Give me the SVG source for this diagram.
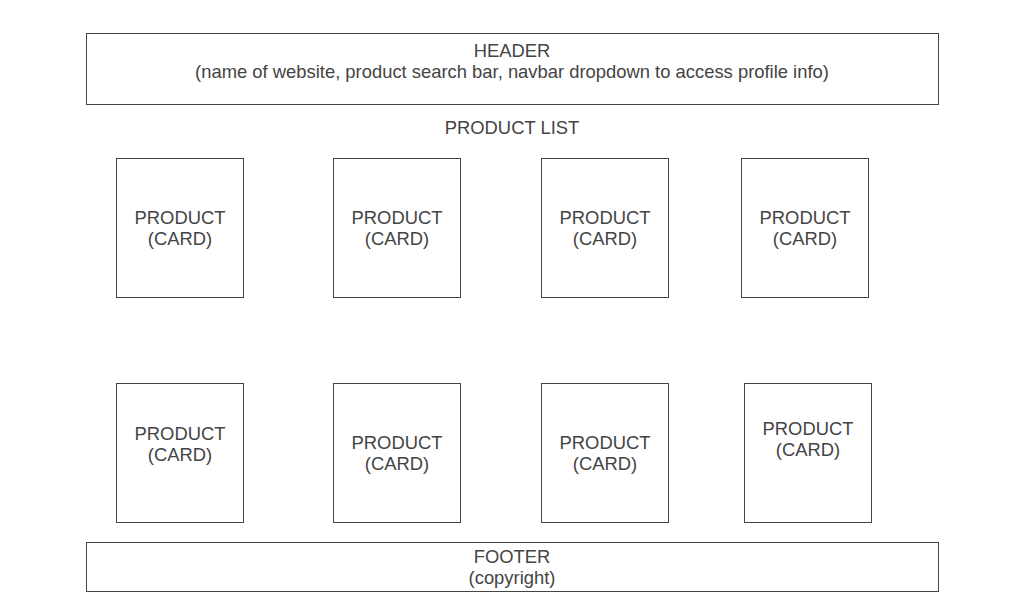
<svg xmlns="http://www.w3.org/2000/svg" width="1024" height="600" viewBox="0 0 1024 600">
<style>
.box{fill:#ffffff;stroke:#444444;stroke-width:1}
.t{font-family:"Liberation Sans",Arial,sans-serif;font-size:18.4px;fill:#444444;text-anchor:middle}
</style>
<rect width="1024" height="600" fill="#ffffff"/>
<g id="header">
<rect class="box" x="86.5" y="33.5" width="852" height="71"/>
<text class="t" x="512" y="57">HEADER</text>
<text class="t" x="512" y="78">(name of website, product search bar, navbar dropdown to access profile info)</text>
</g>
<g id="product-list-label">
<text class="t" x="512" y="134">PRODUCT LIST</text>
</g>
<g id="card1">
<rect class="box" x="116.5" y="158.5" width="127" height="139"/>
<text class="t" x="180" y="224">PRODUCT</text>
<text class="t" x="180" y="245">(CARD)</text>
</g>
<g id="card2">
<rect class="box" x="333.5" y="158.5" width="127" height="139"/>
<text class="t" x="397" y="224">PRODUCT</text>
<text class="t" x="397" y="245">(CARD)</text>
</g>
<g id="card3">
<rect class="box" x="541.5" y="158.5" width="127" height="139"/>
<text class="t" x="605" y="224">PRODUCT</text>
<text class="t" x="605" y="245">(CARD)</text>
</g>
<g id="card4">
<rect class="box" x="741.5" y="158.5" width="127" height="139"/>
<text class="t" x="805" y="224">PRODUCT</text>
<text class="t" x="805" y="245">(CARD)</text>
</g>
<g id="card5">
<rect class="box" x="116.5" y="383.5" width="127" height="139"/>
<text class="t" x="180" y="440">PRODUCT</text>
<text class="t" x="180" y="461">(CARD)</text>
</g>
<g id="card6">
<rect class="box" x="333.5" y="383.5" width="127" height="139"/>
<text class="t" x="397" y="449">PRODUCT</text>
<text class="t" x="397" y="470">(CARD)</text>
</g>
<g id="card7">
<rect class="box" x="541.5" y="383.5" width="127" height="139"/>
<text class="t" x="605" y="449">PRODUCT</text>
<text class="t" x="605" y="470">(CARD)</text>
</g>
<g id="card8">
<rect class="box" x="744.5" y="383.5" width="127" height="139"/>
<text class="t" x="808" y="435">PRODUCT</text>
<text class="t" x="808" y="456">(CARD)</text>
</g>
<g id="footer">
<rect class="box" x="86.5" y="542.5" width="852" height="49"/>
<text class="t" x="512" y="563">FOOTER</text>
<text class="t" x="512" y="584">(copyright)</text>
</g>
<g id="connectors"></g>
</svg>
